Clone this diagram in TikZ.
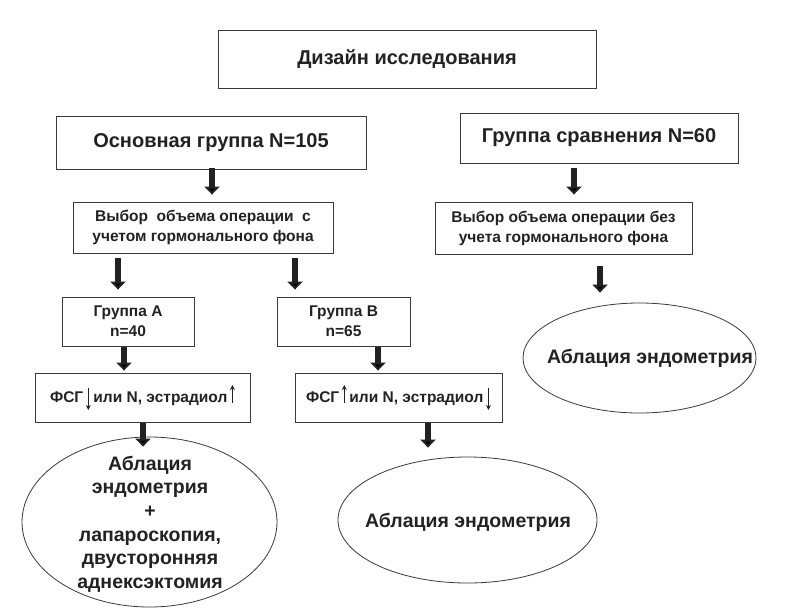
\documentclass[tikz,border=0pt]{standalone}
\usepackage{fontspec}
\setmainfont{Liberation Sans}
\usetikzlibrary{arrows.meta,shapes.geometric}
\definecolor{ink}{HTML}{222222}
\definecolor{edge}{HTML}{3A3A3A}
\newcommand{\dnar}{\tikz[baseline=0pt,x=1pt,y=1pt]\draw[ink,line width=1.3pt,-{Stealth[length=5pt,width=5pt]}] (0,14) -- (0,-8);}
\newcommand{\upar}{\tikz[baseline=0pt,x=1pt,y=1pt]\draw[ink,line width=1.3pt,-{Stealth[length=5pt,width=5pt]}] (0,-1) -- (0,17);}
\begin{document}
\begin{tikzpicture}[x=1pt,y=-1pt,
  box/.style={draw=edge,line width=0.9pt,inner sep=0pt,align=center,text=ink,font=\bfseries\fontsize{15.5}{20}\selectfont},
  bigbox/.style={box,font=\bfseries\fontsize{20}{24}\selectfont},
  oval/.style={draw=edge,line width=0.8pt,ellipse,inner sep=0pt},
  lab/.style={text=ink,align=center,font=\bfseries\fontsize{19.5}{23.6}\selectfont,inner sep=0pt},
  bigarr/.style={draw=ink,line width=6.5pt,-{Triangle[width=15pt,length=8pt]}}]
\useasboundingbox (0,0) rectangle (803,608);
\fill[white] (0,0) rectangle (803,608);

\node[bigbox,minimum width=378pt,minimum height=58pt] (top) at (407,59) {Дизайн исследования};
\node[bigbox,minimum width=310pt,minimum height=53pt] (main) at (211,142.5) {Основная группа N=105};
\node[bigbox,minimum width=278pt,minimum height=50pt] (comp) at (599,138) {Группа сравнения N=60};
\node[box,minimum width=260pt,minimum height=51pt] (vybor) at (203,227.5) {Выбор\ \ объема операции\ \ с\\учетом гормонального фона};
\node[box,minimum width=257pt,minimum height=52pt] (vybor2) at (563.5,228) {Выбор объема операции без\\учета гормонального фона};
\node[box,minimum width=132pt,minimum height=49pt] (grA) at (128,321.5) {Группа А\\n=40};
\node[box,minimum width=133pt,minimum height=49pt] (grB) at (343.5,321.5) {Группа В\\n=65};
\node[box,minimum width=215pt,minimum height=49pt] (fsg1) at (142.5,397.5) {ФСГ\,\dnar\,или N, эстрадиол\,\upar};
\node[box,minimum width=207pt,minimum height=49pt] (fsg2) at (398.5,397.5) {ФСГ\,\upar\,или N, эстрадиол\,\dnar};

\node[oval,minimum width=255pt,minimum height=170pt] (ell1) at (149.5,522) {};
\node[oval,minimum width=259pt,minimum height=126pt] (ell2) at (467.5,520) {};
\node[oval,minimum width=233pt,minimum height=110pt] (ell3) at (639.5,358) {};
\node[lab] (t1) at (150,524) {Аблация\\эндометрия\\+\\лапароскопия,\\двусторонняя\\аднексэктомия};
\node[lab] (t2) at (468,522) {Аблация эндометрия};
\node[lab] (t3) at (650,358) {Аблация эндометрия};

\coordinate (c1) at (212,0);
\coordinate (c2) at (574,0);
\coordinate (c3) at (118,0);
\coordinate (c4) at (295,0);
\coordinate (c5) at (600,0);
\coordinate (c6) at (124,0);
\coordinate (c7) at (378,0);
\coordinate (c8) at (143,0);
\coordinate (c9) at (428,0);

\draw[bigarr,shorten <=-1pt,shorten >=7pt] (main.south -| c1) -- (vybor.north -| c1);
\draw[bigarr,shorten <=5pt,shorten >=7pt] (comp.south -| c2) -- (vybor2.north -| c2);
\draw[bigarr,shorten <=5pt,shorten >=7pt] (vybor.south -| c3) -- (grA.north -| c3);
\draw[bigarr,shorten <=5pt,shorten >=7pt] (vybor.south -| c4) -- (grB.north -| c4);
\draw[bigarr,shorten <=12pt,shorten >=10pt] (vybor2.south -| c5) -- (ell3.north -| c5);
\draw[bigarr,shorten <=1pt,shorten >=2pt] (grA.south -| c6) -- (fsg1.north -| c6);
\draw[bigarr,shorten <=1pt,shorten >=2pt] (grB.south -| c7) -- (fsg2.north -| c7);
\draw[bigarr,shorten <=1pt,shorten >=-10pt] (fsg1.south -| c8) -- (ell1.north -| c8);
\draw[bigarr,shorten <=1pt,shorten >=9pt] (fsg2.south -| c9) -- (ell2.north -| c9);
\end{tikzpicture}
\end{document}
